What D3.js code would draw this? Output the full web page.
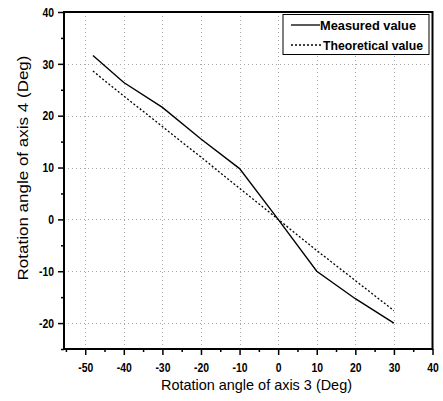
<!DOCTYPE html>
<html>
<head>
<meta charset="utf-8">
<script src="https://cdn.jsdelivr.net/npm/d3@7"></script>
<style>
  html, body { margin: 0; padding: 0; background: #fff; }
  svg { display: block; }
  .tick text { font-family: "Liberation Sans", Arial, sans-serif; font-weight: bold; font-size: 13px; fill: #000; }
</style>
</head>
<body>
<script>
const xValues = [-48, -40, -30, -20, -10, 0, 10, 20, 30];
const measured = [31.6, 26.4, 21.6, 15.5, 9.8, 0, -10, -15.3, -20];
const theoretical = [28.6, 23.8, 17.9, 12, 6, 0, -6, -11.8, -17.6];
const seriesNames = ["Measured value", "Theoretical value"];
const xTicks = [-50, -40, -30, -20, -10, 0, 10, 20, 30, 40];
const yTicks = [-20, -10, 0, 10, 20, 30, 40];
const xTitle = "Rotation angle of axis 3 (Deg)";
const yTitle = "Rotation angle of axis 4 (Deg)";

const W = 443, H = 401;
const L = 64, R = 432.5, T = 12, B = 349;
const squeeze = 0.8;

const svg = d3.select("body").append("svg").attr("width", W).attr("height", H);

const x = d3.scaleLinear().domain([-55.5, 40]).range([L, R]);
const y = d3.scaleLinear().domain([-25, 40]).range([B, T]);

// grid
const grid = svg.append("g").attr("stroke", "#a8a8a8").attr("stroke-width", 1).attr("stroke-dasharray", "1,3");
grid.selectAll("line.gx").data(xTicks.filter(d => d < 40)).join("line")
  .attr("x1", d => Math.round(x(d)) + 0.5).attr("x2", d => Math.round(x(d)) + 0.5)
  .attr("y1", T).attr("y2", B);
grid.selectAll("line.gy").data(yTicks.filter(d => d < 40)).join("line")
  .attr("y1", d => Math.round(y(d)) + 0.5).attr("y2", d => Math.round(y(d)) + 0.5)
  .attr("x1", L).attr("x2", R);

// minor ticks
const xMinor = d3.range(-55, 40, 5).filter(d => !xTicks.includes(d));
const yMinor = d3.range(-25, 40, 5).filter(d => !yTicks.includes(d));
svg.append("g").attr("transform", `translate(0,${B})`)
  .call(d3.axisBottom(x).tickValues(xMinor).tickSize(3).tickFormat(""))
  .call(g => g.select(".domain").remove())
  .selectAll("line").attr("stroke-width", 1.5);
svg.append("g").attr("transform", `translate(${L},0)`)
  .call(d3.axisLeft(y).tickValues(yMinor).tickSize(3).tickFormat(""))
  .call(g => g.select(".domain").remove())
  .selectAll("line").attr("stroke-width", 1.5);

// major axes
const fmt = d => String(d);
const xa = svg.append("g").attr("transform", `translate(0,${B})`)
  .call(d3.axisBottom(x).tickValues(xTicks).tickSize(6).tickPadding(8).tickSizeOuter(0).tickFormat(fmt));
xa.select(".domain").remove();
xa.selectAll("line").attr("stroke-width", 1.5);
xa.selectAll("text").attr("transform", `scale(${squeeze},1)`);
const ya = svg.append("g").attr("transform", `translate(${L},0)`)
  .call(d3.axisLeft(y).tickValues(yTicks).tickSize(6).tickPadding(3).tickSizeOuter(0).tickFormat(fmt));
ya.select(".domain").remove();
ya.selectAll("line").attr("stroke-width", 1.5);
ya.selectAll("text").attr("x", 0).attr("transform", `translate(-10,0) scale(${squeeze},1)`);

// frame
svg.append("rect").attr("x", L).attr("y", T).attr("width", R - L).attr("height", B - T)
  .attr("fill", "none").attr("stroke", "#000").attr("stroke-width", 2);

// lines
const lineM = d3.line().x((d, i) => x(xValues[i])).y(d => y(d));
svg.append("path").datum(measured).attr("d", lineM)
  .attr("fill", "none").attr("stroke", "#000").attr("stroke-width", 1.4);
svg.append("path").datum(theoretical).attr("d", lineM)
  .attr("fill", "none").attr("stroke", "#000").attr("stroke-width", 1.3).attr("stroke-dasharray", "2,2");

// legend
const lg = svg.append("g");
lg.append("rect").attr("x", 283).attr("y", 14.5).attr("width", 146).attr("height", 40)
  .attr("fill", "#fff").attr("stroke", "#000").attr("stroke-width", 1);
const legendItems = [
  { name: seriesNames[0], dash: null, yy: 25, len: 96, tx: 320 },
  { name: seriesNames[1], dash: "2,2", yy: 45, len: 100, tx: 323 }
];
legendItems.forEach(it => {
  lg.append("line").attr("x1", 291).attr("x2", it.tx).attr("y1", it.yy).attr("y2", it.yy)
    .attr("stroke", "#000").attr("stroke-width", 1.3).attr("stroke-dasharray", it.dash);
  lg.append("text").attr("x", it.tx).attr("y", it.yy).attr("dy", "0.36em")
    .attr("font-family", '"Liberation Sans", Arial, sans-serif')
    .attr("font-weight", "bold").attr("font-size", 13.5)
    .attr("textLength", it.len).attr("lengthAdjust", "spacingAndGlyphs").text(it.name);
});

// titles
svg.append("text").attr("x", 256.5).attr("y", 390).attr("text-anchor", "middle")
  .attr("font-family", '"Liberation Sans", Arial, sans-serif').attr("font-size", 15)
  .attr("textLength", 191).attr("lengthAdjust", "spacingAndGlyphs").text(xTitle);
svg.append("text").attr("transform", `translate(28,168) rotate(-90)`).attr("text-anchor", "middle")
  .attr("font-family", '"Liberation Sans", Arial, sans-serif').attr("font-size", 14)
  .attr("textLength", 225).attr("lengthAdjust", "spacingAndGlyphs").text(yTitle);
</script>
</body>
</html>
